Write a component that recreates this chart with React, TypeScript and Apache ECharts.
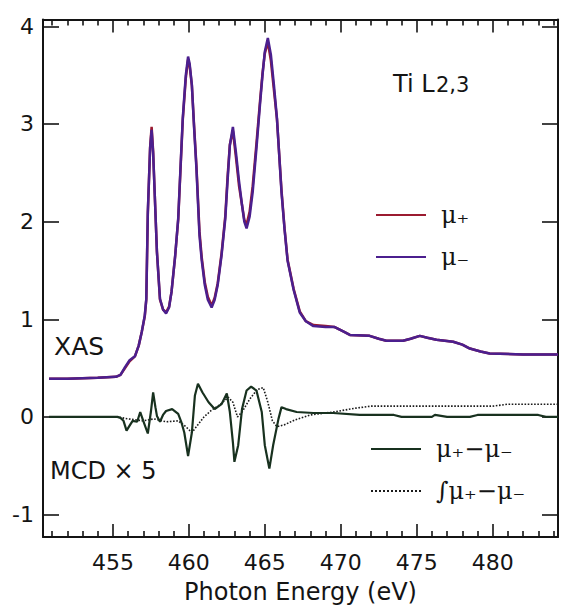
import React, { useEffect, useRef } from "react";
import * as echarts from "echarts";

// ---- data ----
const X_MIN = 450.4;
const X_MAX = 484.3;
const Y_MIN = -1.23;
const Y_MAX = 4.07;

const xasEnergy = [
  450.8, 452, 454, 455.2, 455.5, 455.8, 456.1, 456.45, 456.7, 456.9, 457.1, 457.2, 457.3, 457.45, 457.55,
  457.65, 457.75, 457.9, 458.1, 458.3, 458.5, 458.7, 458.86, 459.1, 459.3, 459.45, 459.6, 459.8, 459.95,
  460.05, 460.2, 460.35, 460.5, 460.7, 460.85, 461.05, 461.25, 461.5, 461.7, 461.9, 462.15, 462.4, 462.55,
  462.7, 462.9, 463.1, 463.3, 463.5, 463.65, 463.8, 464.0, 464.2, 464.45, 464.7, 464.85, 465.0, 465.2,
  465.4, 465.6, 465.8, 466.1, 466.3, 466.5, 466.9, 467.3, 467.7, 468.2, 469.0, 469.6, 470.1, 470.6, 471.9,
  472.5, 473.0, 474.1, 474.6, 475.2, 475.7, 476.3, 477.4, 478.0, 478.5, 479.2, 479.8, 482.0, 484.3,
];
const muMinus = [
  0.39, 0.39, 0.4, 0.41, 0.43, 0.51, 0.58, 0.62, 0.73, 0.87, 1.04, 1.21, 2.1, 2.75, 2.94,
  2.7, 2.3, 1.69, 1.21, 1.1, 1.06, 1.12, 1.28, 1.65, 2.03, 2.55, 3.06, 3.5, 3.69,
  3.62, 3.4, 2.95, 2.54, 1.86, 1.6, 1.35, 1.2, 1.12, 1.2, 1.35, 1.65, 2.03, 2.42,
  2.78, 2.97, 2.71, 2.42, 2.17, 2.0, 1.93, 2.05, 2.3, 2.75, 3.23, 3.5, 3.74, 3.88,
  3.71, 3.4, 3.06, 2.3, 1.92, 1.6, 1.3, 1.07, 0.98, 0.93, 0.92, 0.92, 0.88, 0.84, 0.83,
  0.8, 0.78, 0.78, 0.8, 0.83, 0.81, 0.79, 0.77, 0.74, 0.7, 0.67, 0.65, 0.64, 0.64,
];
const muPlus = [
  0.39, 0.39, 0.4, 0.41, 0.43, 0.5, 0.57, 0.62, 0.73, 0.87, 1.03, 1.2, 2.08, 2.76, 2.97,
  2.72, 2.3, 1.69, 1.2, 1.1, 1.07, 1.13, 1.28, 1.65, 2.02, 2.53, 3.04, 3.47, 3.66,
  3.6, 3.39, 2.97, 2.57, 1.9, 1.63, 1.38, 1.23, 1.14, 1.22, 1.37, 1.67, 2.06, 2.46,
  2.79, 2.93, 2.66, 2.37, 2.17, 2.02, 1.97, 2.1, 2.36, 2.8, 3.26, 3.52, 3.72, 3.84,
  3.65, 3.35, 3.05, 2.32, 1.93, 1.61, 1.31, 1.08, 0.98, 0.94, 0.93, 0.92, 0.88, 0.84, 0.83,
  0.8, 0.78, 0.78, 0.8, 0.83, 0.81, 0.79, 0.77, 0.74, 0.7, 0.67, 0.65, 0.64, 0.64,
];

const mcdEnergy = [
  450.8, 453, 455.3, 455.5, 455.7, 455.9, 456.1, 456.3, 456.6, 456.8, 457.0, 457.3, 457.5, 457.65, 457.8,
  457.9, 458.1, 458.3, 458.5, 458.9, 459.3, 459.5, 459.7, 459.95, 460.2, 460.4, 460.6, 460.9, 461.3, 461.7,
  462.15, 462.5, 462.7, 462.9, 463.0, 463.25, 463.5, 463.8, 464.1, 464.45, 464.8, 465.0, 465.3, 465.55,
  465.9, 466.1, 466.4, 467.1, 468.2, 469.5, 471.25, 473.5, 474.0, 476.0, 476.2, 477.0, 478.5, 479.0, 483.0,
  483.5, 484.3,
];
const mcdValues = [
  0.0, 0.0, 0.0, -0.01, -0.04, -0.14, -0.09, -0.04, -0.05, 0.05, -0.04, -0.17, 0.05, 0.25, 0.1,
  0.01, -0.05, 0.02, 0.06, 0.08, 0.03, -0.05, -0.16, -0.4, -0.16, 0.22, 0.34, 0.25, 0.15, 0.08,
  0.13, 0.24, 0.05, -0.26, -0.46, -0.29, 0.08, 0.27, 0.31, 0.27, 0.05, -0.29, -0.53, -0.29,
  -0.02, 0.1, 0.08, 0.05, 0.04, 0.04, 0.02, 0.02, 0.0, 0.0, 0.02, 0.0, 0.0, 0.02, 0.02,
  0.0, 0.0,
];

const intEnergy = [
  450.8, 455.3, 456.0, 457.0, 457.7, 458.5, 459.3, 459.8, 460.2, 460.6, 461.0, 461.5, 462.0, 462.6, 462.9,
  463.2, 463.5, 464.0, 464.5, 464.9, 465.2, 465.5, 465.8, 466.3, 467.0, 468.0, 469.5, 471.0, 472.0, 480.0,
  481.0, 484.3,
];
const intValues = [
  0.0, 0.0, -0.02, -0.04, -0.02, -0.05, -0.04, -0.1, -0.16, -0.08, 0.0, 0.07, 0.12, 0.2, 0.15,
  0.0, 0.05, 0.18, 0.28, 0.3, 0.15, -0.04, -0.1, -0.08, -0.03, 0.02, 0.05, 0.09, 0.11, 0.11,
  0.13, 0.13,
];

const seriesNames = ["μ₊", "μ₋", "μ₊−μ₋", "∫μ₊−μ₋"];

const pairs = (xs: number[], ys: number[]) => xs.map((x, i) => [x, ys[i]]);

const INK = "#141414";
const FONT = "DejaVu Sans, Arial, sans-serif";

export default function App() {
  const ref = useRef<HTMLDivElement>(null);

  useEffect(() => {
    if (!ref.current) return;
    const chart = echarts.init(ref.current, undefined, { renderer: "svg" });

    const tickStyle = { color: INK, width: 1.6 };
    const xBase = (pos: "bottom" | "top", labels: boolean) => ({
      type: "value",
      position: pos,
      min: X_MIN,
      max: X_MAX,
      splitNumber: 7,
      axisLine: { show: true, onZero: false, lineStyle: { color: INK, width: 2 } },
      axisTick: { show: true, inside: true, length: 13, lineStyle: tickStyle },
      minorTick: { show: true, splitNumber: 5, length: 6, lineStyle: tickStyle },
      splitLine: { show: false },
      minorSplitLine: { show: false },
      axisLabel: {
        show: labels,
        showMinLabel: false,
        showMaxLabel: false,
        fontFamily: FONT,
        fontSize: 22,
        color: INK,
        margin: 14,
      },
      ...(labels
        ? {
            name: "Photon Energy (eV)",
            nameLocation: "middle",
            nameGap: 43,
            nameTextStyle: { fontFamily: FONT, fontSize: 24, color: INK, verticalAlign: "top" },
          }
        : {}),
    });
    const yBase = (pos: "left" | "right", labels: boolean) => ({
      type: "value",
      position: pos,
      min: Y_MIN,
      max: Y_MAX,
      splitNumber: 5,
      axisLine: { show: true, onZero: false, lineStyle: { color: INK, width: 2 } },
      axisTick: { show: true, inside: true, length: 16, lineStyle: tickStyle },
      splitLine: { show: false },
      axisLabel: {
        show: labels,
        showMinLabel: false,
        showMaxLabel: false,
        fontFamily: FONT,
        fontSize: 22,
        color: INK,
        margin: 9,
      },
    });

    const lineSeries = (name: string, data: number[][], color: string, width: number, type: string, z: number) => ({
      name,
      type: "line",
      xAxisIndex: 0,
      yAxisIndex: 0,
      data,
      symbol: "none",
      showSymbol: false,
      smooth: false,
      z,
      lineStyle: { color, width, type },
      itemStyle: { color },
    });

    const legendText = {
      fontFamily: "DejaVu Serif, Liberation Serif, serif",
      fontSize: 24,
      lineHeight: 28,
      color: INK,
      padding: [0, 0, 0, 10],
    };

    chart.setOption({
      animation: false,
      backgroundColor: "#ffffff",
      grid: { left: 43, right: 4, top: 19.5, bottom: 75, containLabel: false },
      xAxis: [xBase("bottom", true), xBase("top", false)],
      yAxis: [yBase("left", true), yBase("right", false)],
      legend: [
        {
          data: [seriesNames[0], seriesNames[1]],
          orient: "vertical",
          left: 370,
          top: 196,
          itemWidth: 50,
          itemHeight: 12,
          itemGap: 14,
          selectedMode: false,
          itemStyle: { opacity: 0 },
          textStyle: legendText,
        },
        {
          data: [seriesNames[2], seriesNames[3]],
          orient: "vertical",
          left: 365,
          top: 430,
          itemWidth: 50,
          itemHeight: 12,
          itemGap: 14,
          selectedMode: false,
          itemStyle: { opacity: 0 },
          textStyle: legendText,
        },
      ],
      graphic: [
        {
          type: "text",
          x: 393,
          y: 96,
          style: { text: "Ti L", fontFamily: FONT, fontSize: 24, fill: INK, textAlign: "left", textVerticalAlign: "bottom" },
        },
        {
          type: "text",
          x: 436,
          y: 95,
          style: { text: "2,3", fontFamily: FONT, fontSize: 21, fill: INK, textAlign: "left", textVerticalAlign: "bottom" },
        },
        {
          type: "text",
          x: 54,
          y: 346,
          style: { text: "XAS", fontFamily: FONT, fontSize: 25, fill: INK, textAlign: "left", textVerticalAlign: "middle" },
        },
        {
          type: "text",
          x: 50,
          y: 471,
          style: { text: "MCD × 5", fontFamily: FONT, fontSize: 24, fill: INK, textAlign: "left", textVerticalAlign: "middle" },
        },
      ],
      series: [
        lineSeries(seriesNames[0], pairs(xasEnergy, muPlus), "#9b1b30", 2.5, "solid", 2),
        lineSeries(seriesNames[1], pairs(xasEnergy, muMinus), "#4b1f8e", 2.5, "solid", 3),
        lineSeries(seriesNames[3], pairs(intEnergy, intValues), "#1a1a1a", 1.6, "dotted", 2),
        lineSeries(seriesNames[2], pairs(mcdEnergy, mcdValues), "#18311f", 2.2, "solid", 3),
      ],
    });

    return () => chart.dispose();
  }, []);

  return (
    <div
      ref={ref}
      style={{ position: "fixed", left: 0, top: 0, width: 562, height: 612, background: "#fff" }}
    />
  );
}
